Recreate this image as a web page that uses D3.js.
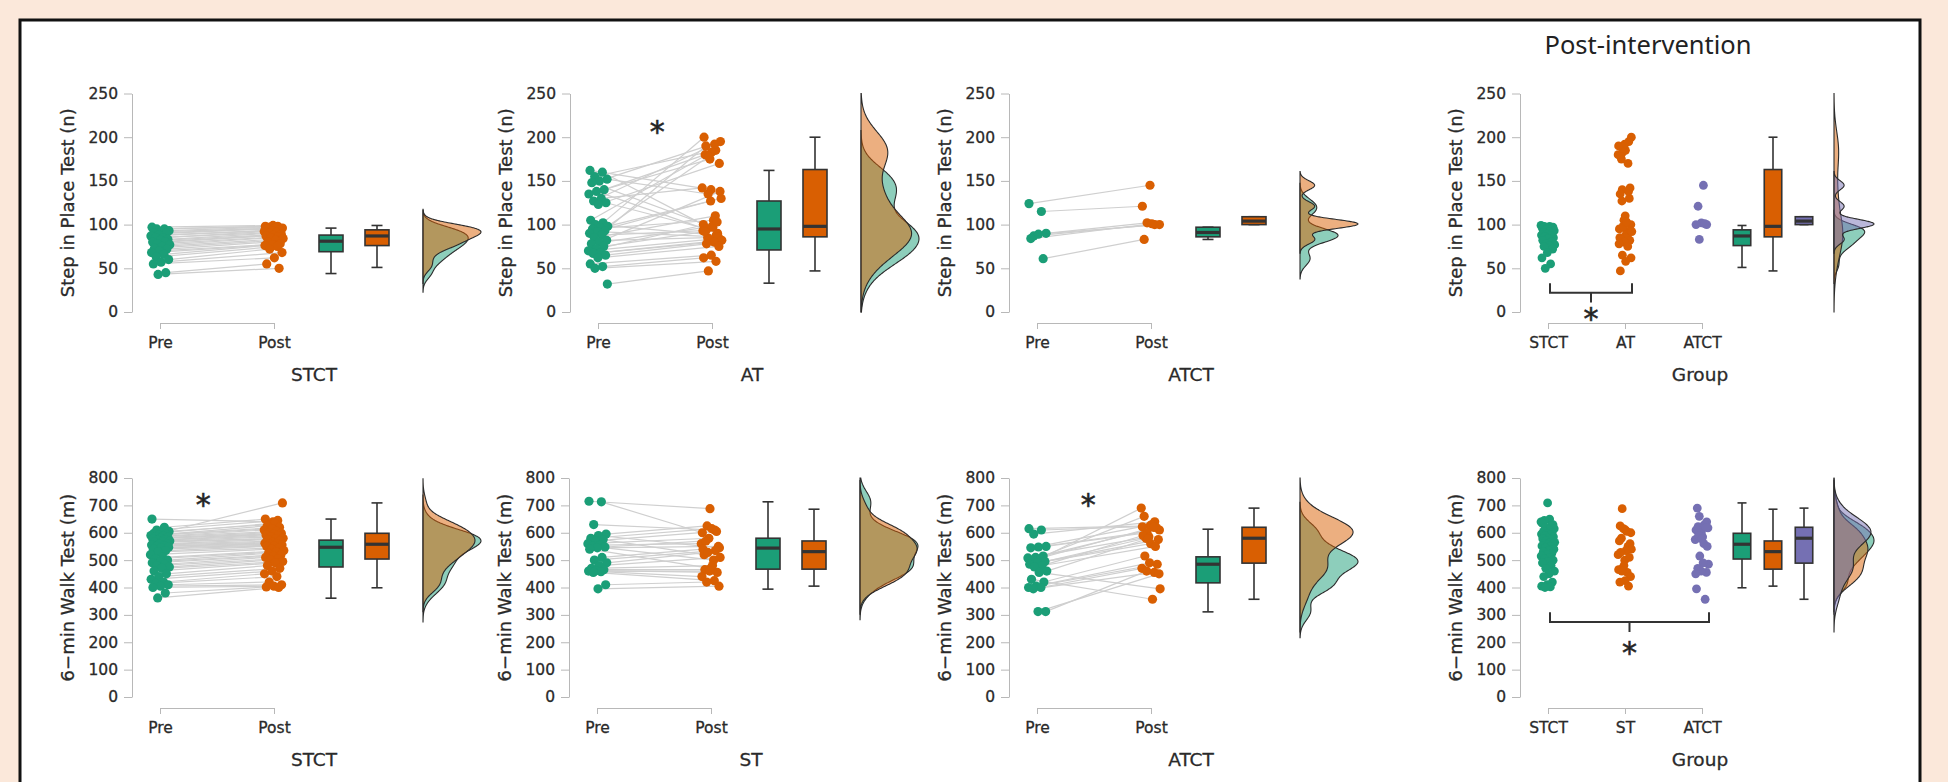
<!DOCTYPE html>
<html>
<head>
<meta charset="utf-8">
<script src="https://cdn.jsdelivr.net/npm/d3@7"></script>
<style>
  html, body { margin: 0; padding: 0; background: #fbe8da; }
  svg { display: block; }
  text { font-family: "DejaVu Sans", sans-serif; fill: #2a2a2a; stroke: #2a2a2a; stroke-width: 0.3px; }
</style>
</head>
<body>
<svg id="chart" width="1948" height="782"></svg>
<script>
// categories and ticks
const prePost = ["Pre", "Post"];
const stepGroups = ["STCT", "AT", "ATCT"];
const walkGroups = ["STCT", "ST", "ATCT"];
const stepTicks = [0, 50, 100, 150, 200, 250];
const walkTicks = [0, 100, 200, 300, 400, 500, 600, 700, 800];

// Step in Place Test (n): pre[i] is paired with post[i]
const stepSTCTPre = [97, 95, 95, 93, 92, 90, 90, 88, 87, 85, 85, 83, 82, 80, 80, 78, 77, 75, 73, 72, 70, 68, 66, 63, 60, 57, 55, 45, 43];
const stepSTCTPost = [99, 98, 98, 97, 96, 96, 95, 94, 93, 92, 91, 90, 89, 88, 87, 86, 85, 84, 82, 80, 78, 77, 76, 75, 72, 68, 62, 55, 50];
const stepATPre = [162, 160, 155, 152, 150, 148, 140, 138, 135, 130, 127, 125, 123, 105, 102, 100, 98, 96, 95, 93, 92, 90, 88, 85, 82, 80, 78, 75, 72, 70, 68, 67, 65, 62, 55, 52, 50, 32];
const stepATPost = [140, 100, 185, 135, 195, 97, 180, 90, 175, 142, 192, 95, 170, 183, 200, 88, 178, 130, 105, 190, 86, 127, 93, 110, 85, 138, 98, 92, 103, 83, 82, 80, 78, 75, 65, 62, 58, 47];
const stepATCTPre = [124, 115, 87, 90, 89, 84, 61];
const stepATCTPost = [145, 121, 100, 102, 100, 101, 83];

// 6-min Walk Test (m)
const walkSTCTPre = [650, 620, 610, 605, 600, 598, 595, 592, 590, 588, 585, 583, 580, 578, 575, 572, 570, 568, 565, 560, 558, 555, 552, 550, 547, 545, 540, 535, 530, 520, 510, 505, 500, 495, 490, 485, 480, 475, 470, 460, 450, 440, 430, 420, 415, 410, 405, 400, 380, 362];
const walkSTCTPost = [640, 650, 645, 630, 709, 635, 625, 620, 615, 610, 605, 600, 598, 595, 592, 590, 585, 580, 578, 575, 570, 565, 562, 560, 558, 555, 552, 550, 545, 540, 535, 530, 525, 520, 515, 510, 505, 500, 495, 490, 480, 470, 460, 450, 440, 420, 410, 405, 402, 400];
const walkSTPre = [715, 713, 630, 595, 590, 580, 575, 570, 560, 555, 550, 548, 545, 540, 510, 500, 490, 480, 470, 465, 462, 460, 458, 455, 410, 395];
const walkSTPost = [688, 600, 610, 625, 545, 615, 520, 605, 580, 560, 500, 570, 550, 470, 540, 535, 528, 510, 480, 465, 455, 460, 440, 425, 420, 405];
const walkATCTPre = [615, 610, 595, 550, 548, 545, 515, 510, 508, 505, 500, 495, 490, 485, 480, 475, 460, 455, 430, 420, 405, 400, 400, 395, 312, 312];
const walkATCTPost = [625, 622, 640, 600, 610, 630, 660, 618, 585, 690, 620, 580, 575, 560, 590, 550, 578, 395, 357, 515, 485, 490, 470, 455, 460, 450];

// box stats: [min, q1, median, q3, max], [pre, post]
const boxStepSTCT = [[44, 69, 81, 88, 96], [51, 76, 87, 94, 99]];
const boxStepAT = [[33, 71, 95, 127, 162], [47, 86, 98, 163, 200]];
const boxStepATCT = [[83, 86, 91, 97, 97], [100, 100, 104, 109, 109]];
const boxWalkSTCT = [[361, 475, 547, 573, 650], [399, 504, 558, 598, 709]];
const boxWalkST = [[394, 467, 544, 580, 713], [405, 467, 531, 570, 686]];
const boxWalkATCT = [[311, 417, 485, 512, 613], [357, 489, 580, 620, 690]];

const green = "#1b9e77", orange = "#d95f02", purple = "#7570b3";
const axisGrey = "#b8b8b8";

const rows = [
  { yTop: 93.5, yBot: 312, axisY: 323, titleY: 375, max: 250, ticks: stepTicks, title: "Step in Place Test (n)" },
  { yTop: 478, yBot: 697, axisY: 708, titleY: 760, max: 800, ticks: walkTicks, title: "6\u2212min Walk Test (m)" }
];

const pairedPanels = [
  { row: 0, axisX: 132, name: "STCT", pre: stepSTCTPre, post: stepSTCTPost, box: boxStepSTCT },
  { row: 0, axisX: 570, name: "AT", pre: stepATPre, post: stepATPost, box: boxStepAT, star: [0.52, 213] },
  { row: 0, axisX: 1009, name: "ATCT", pre: stepATCTPre, post: stepATCTPost, box: boxStepATCT },
  { row: 1, axisX: 132, name: "STCT", pre: walkSTCTPre, post: walkSTCTPost, box: boxWalkSTCT, star: [0.38, 726] },
  { row: 1, axisX: 569, name: "ST", pre: walkSTPre, post: walkSTPost, box: boxWalkST },
  { row: 1, axisX: 1009, name: "ATCT", pre: walkATCTPre, post: walkATCTPost, box: boxWalkATCT, star: [0.45, 726] }
];

const groupPanels = [
  { row: 0, axisX: 1520, groups: stepGroups,
    values: [stepSTCTPost, stepATPost, stepATCTPost],
    boxes: [boxStepSTCT[1], boxStepAT[1], boxStepATCT[1]],
    bracket: { from: "STCT", to: "AT", top: 33, mid: 22, tip: 11, star: 0 } },
  { row: 1, axisX: 1520, groups: walkGroups,
    values: [walkSTCTPost, walkSTPost, walkATCTPost],
    boxes: [boxWalkSTCT[1], boxWalkST[1], boxWalkATCT[1]],
    bracket: { from: "STCT", to: "ATCT", top: 310, mid: 274, tip: 237, star: 186 } }
];

const svg = d3.select("#chart");

svg.append("rect")
  .attr("x", 20).attr("y", 20)
  .attr("width", 1900).attr("height", 800)
  .attr("fill", "#fff")
  .attr("stroke", "#111").attr("stroke-width", 3);

svg.append("text")
  .attr("x", 1648).attr("y", 45)
  .attr("text-anchor", "middle").attr("dy", "0.35em")
  .style("font-family", "'Noto Sans', sans-serif")
  .style("font-size", "25.5px")
  .style("stroke-width", "0px")
  .style("fill", "#222")
  .text("Post-intervention");

// deterministic horizontal spread for the dots
function spread(i, phase) {
  return (((i * 0.6180339887 + phase) % 1) - 0.5) * 2;
}

// bandwidth like R's bw.nrd0
function nrd0(vals) {
  const s = vals.slice().sort(d3.ascending);
  const iqr = d3.quantile(s, 0.75) - d3.quantile(s, 0.25);
  const lo = Math.min(d3.deviation(s), iqr / 1.34);
  return 0.9 * lo * Math.pow(s.length, -0.2);
}

function kde(vals, lo, hi) {
  const bw = nrd0(vals);
  const a = Math.max(lo, d3.min(vals) - 3 * bw);
  const b = Math.min(hi, d3.max(vals) + 3 * bw);
  const n = 200;
  return d3.range(n + 1).map((k) => {
    const v = a + ((b - a) * k) / n;
    const d = d3.mean(vals, (x) => Math.exp(-0.5 * ((v - x) / bw) ** 2)) / (bw * Math.sqrt(2 * Math.PI));
    return { v, d };
  });
}

function drawYAxis(row, y, axisX) {
  const ax = svg.append("g")
    .attr("transform", `translate(${axisX},0)`)
    .call(d3.axisLeft(y).tickValues(row.ticks).tickSize(8).tickSizeOuter(0).tickPadding(6));
  ax.attr("font-family", "DejaVu Sans").attr("font-size", 15.5);
  ax.select(".domain").attr("stroke", axisGrey);
  ax.selectAll(".tick line").attr("stroke", axisGrey);
  ax.selectAll(".tick text").attr("fill", "#2a2a2a");

  svg.append("text")
    .attr("transform", `translate(${axisX - 64},${(row.yTop + row.yBot) / 2}) rotate(-90)`)
    .attr("text-anchor", "middle").attr("dy", "0.35em")
    .style("font-size", "18px")
    .text(row.title);
}

function drawXAxis(row, x, titleX, title) {
  const ax = svg.append("g")
    .attr("transform", `translate(0,${row.axisY})`)
    .call(d3.axisBottom(x).tickSize(6).tickSizeOuter(6).tickPadding(8));
  ax.attr("font-family", "DejaVu Sans").attr("font-size", 15.5);
  ax.select(".domain").attr("stroke", axisGrey);
  ax.selectAll(".tick line").attr("stroke", axisGrey);
  ax.selectAll(".tick text").attr("fill", "#2a2a2a");

  svg.append("text")
    .attr("x", titleX).attr("y", row.titleY)
    .attr("text-anchor", "middle").attr("dy", "0.35em")
    .style("font-size", "18.5px")
    .text(title);
}

function drawBox(bx, y, key, stats, width, cap, color) {
  const [mn, q1, md, q3, mx] = stats;
  const cx = bx(key);
  const g = svg.append("g").attr("stroke", "#333").attr("stroke-width", 1.6);
  g.append("line").attr("x1", cx).attr("x2", cx).attr("y1", y(mx)).attr("y2", y(q3));
  g.append("line").attr("x1", cx).attr("x2", cx).attr("y1", y(q1)).attr("y2", y(mn));
  g.append("line").attr("x1", cx - cap / 2).attr("x2", cx + cap / 2).attr("y1", y(mx)).attr("y2", y(mx));
  g.append("line").attr("x1", cx - cap / 2).attr("x2", cx + cap / 2).attr("y1", y(mn)).attr("y2", y(mn));
  g.append("rect")
    .attr("x", cx - width / 2).attr("width", width)
    .attr("y", y(q3)).attr("height", Math.max(1, y(q1) - y(q3)))
    .attr("fill", color);
  g.append("line")
    .attr("x1", cx - width / 2).attr("x2", cx + width / 2)
    .attr("y1", y(md)).attr("y2", y(md))
    .attr("stroke-width", 3.2);
}

function drawDensities(y, sets, colors, base, maxW, hi) {
  const curves = sets.map((vals) => kde(vals, 0, hi));
  const dMax = d3.max(curves, (c) => d3.max(c, (p) => p.d));
  const dx = d3.scaleLinear().domain([0, dMax]).range([base, base + maxW]);
  const area = d3.area()
    .x0(base)
    .x1((p) => dx(p.d))
    .y((p) => y(p.v))
    .curve(d3.curveBasis);
  curves.forEach((c, i) => {
    svg.append("path")
      .datum(c)
      .attr("d", area)
      .attr("fill", colors[i])
      .attr("fill-opacity", 0.5)
      .attr("stroke", "#2b2b2b")
      .attr("stroke-width", 1.1);
  });
}

function drawStar(x, y) {
  svg.append("text")
    .attr("x", x).attr("y", y)
    .attr("text-anchor", "middle")
    .attr("dy", "0.55em")
    .style("font-size", "30px")
    .style("stroke-width", "0.6px")
    .style("fill", "#222")
    .text("*");
}

// paired pre/post panels
pairedPanels.forEach((p) => {
  const row = rows[p.row];
  const y = d3.scaleLinear().domain([0, row.max]).range([row.yBot, row.yTop]);
  const x = d3.scalePoint().domain(prePost).range([p.axisX + 28, p.axisX + 142]);
  const bx = d3.scalePoint().domain(prePost).range([p.axisX + 199, p.axisX + 245]);

  drawYAxis(row, y, p.axisX);
  drawXAxis(row, x, p.axisX + 182, p.name);

  const pairs = p.pre.map((v, i) => ({
    pre: v, post: p.post[i],
    xa: x("Pre") + 10 * spread(i, 0.1),
    xb: x("Post") + 10 * spread(i, 0.45)
  }));

  svg.append("g").selectAll("line")
    .data(pairs)
    .join("line")
    .attr("x1", (d) => d.xa).attr("y1", (d) => y(d.pre))
    .attr("x2", (d) => d.xb).attr("y2", (d) => y(d.post))
    .attr("stroke", "#cfcfcf")
    .attr("stroke-width", 1.2);

  svg.append("g").selectAll("circle")
    .data(pairs)
    .join("circle")
    .attr("cx", (d) => d.xa).attr("cy", (d) => y(d.pre))
    .attr("r", 4.6).attr("fill", green);

  svg.append("g").selectAll("circle")
    .data(pairs)
    .join("circle")
    .attr("cx", (d) => d.xb).attr("cy", (d) => y(d.post))
    .attr("r", 4.6).attr("fill", orange);

  drawBox(bx, y, "Pre", p.box[0], 24, 11, green);
  drawBox(bx, y, "Post", p.box[1], 24, 11, orange);

  drawDensities(y, [p.pre, p.post], [green, orange], p.axisX + 291, 58, row.max);

  if (p.star) {
    drawStar(x("Pre") + p.star[0] * (x("Post") - x("Pre")), y(p.star[1]));
  }
});

// post-intervention group panels
groupPanels.forEach((p) => {
  const row = rows[p.row];
  const colors = [green, orange, purple];
  const y = d3.scaleLinear().domain([0, row.max]).range([row.yBot, row.yTop]);
  const x = d3.scalePoint().domain(p.groups).range([p.axisX + 28, p.axisX + 182]);
  const bx = d3.scalePoint().domain(p.groups).range([p.axisX + 222, p.axisX + 284]);

  drawYAxis(row, y, p.axisX);
  drawXAxis(row, x, p.axisX + 180, "Group");

  p.groups.forEach((grp, gi) => {
    svg.append("g").selectAll("circle")
      .data(p.values[gi])
      .join("circle")
      .attr("cx", (d, i) => x(grp) + 7 * spread(i, 0.3 * gi))
      .attr("cy", (d) => y(d))
      .attr("r", 4.4)
      .attr("fill", colors[gi]);
  });

  p.groups.forEach((grp, gi) => {
    drawBox(bx, y, grp, p.boxes[gi], 17.5, 9, colors[gi]);
  });

  drawDensities(y, p.values, colors, p.axisX + 314, 40, row.max);

  const b = p.bracket;
  const x0 = x(b.from) + 2, x1 = x(b.to) + 7, xm = (x0 + x1) / 2;
  svg.append("path")
    .attr("d", `M${x0},${y(b.top)}V${y(b.mid)}H${x1}V${y(b.top)}M${xm},${y(b.mid)}V${y(b.tip)}`)
    .attr("fill", "none")
    .attr("stroke", "#333")
    .attr("stroke-width", 2);
  drawStar(xm, y(b.star));
});
</script>
</body>
</html>
